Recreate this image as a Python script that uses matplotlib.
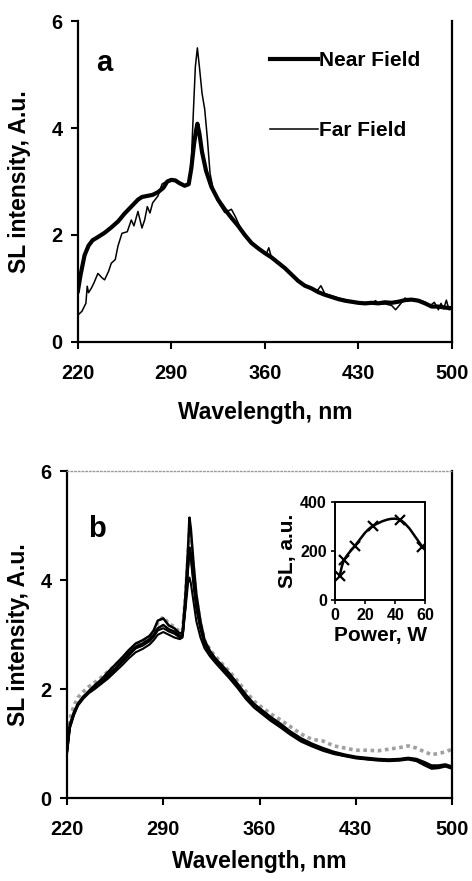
import matplotlib
matplotlib.use("Agg")
import matplotlib.pyplot as plt
from matplotlib.path import Path
from matplotlib.patches import PathPatch

plt.rcParams['font.family'] = ['Liberation Sans', 'DejaVu Sans']
plt.rcParams['font.weight'] = 'bold'

# ---- panel a : near field vs far field ----
near_wl = [220, 222, 225, 228, 231, 235, 240, 245, 250, 255, 260, 265, 268, 272,
           276, 280, 284, 287, 290, 293, 296, 300, 303, 305, 307, 308.5, 309.5, 311,
           313, 316, 320, 325, 330, 335, 340, 345, 350, 355, 360, 365, 370, 375,
           380, 385, 390, 395, 400, 405, 410, 415, 420, 425, 430, 435, 440, 445,
           450, 455, 460, 465, 470, 475, 480, 485, 490, 495, 500]
near_val = [0.95, 1.25, 1.62, 1.80, 1.90, 1.96, 2.04, 2.14, 2.25, 2.40, 2.53, 2.66, 2.71, 2.73,
            2.75, 2.80, 2.88, 3.00, 3.03, 3.02, 2.97, 2.92, 2.95, 3.25, 3.70, 3.95, 4.08, 3.90,
            3.55, 3.20, 2.90, 2.66, 2.48, 2.32, 2.17, 2.00, 1.85, 1.75, 1.66, 1.58, 1.48, 1.38,
            1.26, 1.14, 1.05, 1.00, 0.93, 0.88, 0.84, 0.80, 0.77, 0.75, 0.73, 0.72, 0.73, 0.72,
            0.74, 0.73, 0.75, 0.78, 0.79, 0.77, 0.72, 0.66, 0.66, 0.64, 0.63]

far_wl = [220, 223, 226, 227, 228, 230, 232, 235, 238, 240, 243, 245, 248, 250, 253, 257,
          260, 262, 265, 268, 270, 272, 274, 276, 280, 283, 288, 292, 296, 300, 303, 305,
          306.5, 308, 309.5, 311, 313, 315, 317, 319, 322, 325, 330, 335, 338, 342, 346,
          350, 355, 358, 361, 363, 365, 370, 375, 380, 385, 390, 393, 397, 400, 402, 405,
          410, 415, 420, 425, 430, 435, 440, 443, 446, 450, 455, 458, 462, 465, 468, 472,
          476, 480, 484, 487, 490, 492, 494, 496, 498, 500]
far_val = [0.50, 0.57, 0.72, 1.04, 0.92, 1.00, 1.10, 1.28, 1.20, 1.16, 1.32, 1.47, 1.54, 1.79,
           2.03, 2.06, 2.28, 2.17, 2.44, 2.13, 2.28, 2.53, 2.41, 2.60, 2.73, 2.95, 3.03, 3.02,
           2.97, 2.92, 2.95, 3.40, 4.30, 5.15, 5.50, 5.15, 4.65, 4.35, 3.80, 3.15, 2.78, 2.62,
           2.42, 2.48, 2.34, 2.12, 1.98, 1.85, 1.74, 1.68, 1.64, 1.76, 1.58, 1.46, 1.38, 1.26,
           1.15, 1.04, 1.02, 0.95, 0.98, 1.05, 0.90, 0.86, 0.82, 0.79, 0.74, 0.74, 0.70, 0.73,
           0.77, 0.70, 0.71, 0.68, 0.60, 0.72, 0.82, 0.78, 0.80, 0.78, 0.74, 0.68, 0.74, 0.60,
           0.72, 0.62, 0.78, 0.60, 0.62]

# ---- panel b : spectra at different powers ----
b_wl = [220, 222, 225, 228, 232, 236, 240, 245, 250, 255, 260, 265, 270, 275, 280, 283,
        286, 290, 294, 298, 302, 304, 306, 308, 309, 310, 312, 314, 317, 320, 324, 328,
        333, 338, 344, 350, 356, 362, 368, 375, 382, 390, 398, 406, 414, 422, 430, 438,
        446, 454, 462, 468, 474, 480, 485, 490, 495, 500]
b_val1 = [0.85, 1.30, 1.55, 1.72, 1.86, 1.97, 2.07, 2.18, 2.32, 2.45, 2.58, 2.72, 2.84, 2.90,
          2.98, 3.08, 3.26, 3.30, 3.17, 3.12, 3.02, 3.05, 3.70, 4.60, 5.15, 4.95, 4.30, 3.75,
          3.25, 2.90, 2.70, 2.56, 2.43, 2.29, 2.10, 1.90, 1.73, 1.61, 1.49, 1.37, 1.23, 1.10,
          1.00, 0.92, 0.85, 0.80, 0.76, 0.74, 0.72, 0.71, 0.72, 0.74, 0.72, 0.66, 0.60, 0.60,
          0.62, 0.58]
b_val2 = [0.88, 1.35, 1.58, 1.74, 1.87, 1.96, 2.04, 2.15, 2.27, 2.38, 2.52, 2.66, 2.78, 2.84,
          2.92, 3.00, 3.12, 3.18, 3.10, 3.06, 2.97, 3.00, 3.55, 4.30, 4.60, 4.50, 4.00, 3.55,
          3.15, 2.85, 2.66, 2.54, 2.40, 2.25, 2.06, 1.86, 1.70, 1.58, 1.45, 1.33, 1.20, 1.07,
          0.98, 0.90, 0.83, 0.78, 0.75, 0.72, 0.71, 0.70, 0.71, 0.73, 0.70, 0.63, 0.57, 0.58,
          0.60, 0.55]
b_val3 = [0.86, 1.32, 1.56, 1.73, 1.85, 1.95, 2.03, 2.12, 2.24, 2.36, 2.49, 2.62, 2.75, 2.80,
          2.88, 2.96, 3.08, 3.12, 3.06, 3.02, 2.95, 2.98, 3.50, 4.20, 4.50, 4.40, 3.90, 3.48,
          3.10, 2.82, 2.64, 2.52, 2.38, 2.24, 2.05, 1.85, 1.68, 1.56, 1.44, 1.32, 1.19, 1.06,
          0.97, 0.89, 0.82, 0.78, 0.74, 0.72, 0.70, 0.69, 0.70, 0.72, 0.69, 0.62, 0.56, 0.57,
          0.59, 0.56]
b_val4 = [0.84, 1.28, 1.52, 1.70, 1.83, 1.93, 2.00, 2.10, 2.20, 2.32, 2.44, 2.57, 2.68, 2.74,
          2.82, 2.90, 3.00, 3.05, 3.00, 2.95, 2.92, 2.95, 3.45, 3.95, 4.05, 3.95, 3.60, 3.25,
          2.95, 2.75, 2.60, 2.48, 2.34, 2.20, 2.02, 1.82, 1.66, 1.54, 1.42, 1.30, 1.17, 1.04,
          0.95, 0.87, 0.81, 0.77, 0.73, 0.71, 0.69, 0.68, 0.69, 0.71, 0.68, 0.60, 0.54, 0.55,
          0.58, 0.54]
b_grey = [0.95, 1.45, 1.70, 1.85, 1.96, 2.05, 2.12, 2.22, 2.33, 2.44, 2.56, 2.70, 2.80, 2.86,
          2.94, 3.05, 3.22, 3.33, 3.20, 3.15, 3.05, 3.08, 3.65, 4.45, 4.90, 4.75, 4.15, 3.65,
          3.20, 2.90, 2.72, 2.60, 2.46, 2.33, 2.15, 1.96, 1.78, 1.66, 1.55, 1.44, 1.32, 1.18,
          1.08, 1.05, 0.96, 0.92, 0.88, 0.88, 0.87, 0.90, 0.93, 0.96, 0.92, 0.85, 0.80, 0.82,
          0.85, 0.90]

# inset: SL vs power
power = [3, 6, 13, 25, 43, 58]
sl = [98, 163, 220, 302, 328, 218]

x_ticks = [220, 290, 360, 430, 500]
y_ticks = [0, 2, 4, 6]

fig = plt.figure(figsize=(4.72, 8.81), dpi=100)

def style_main(ax):
    ax.set_xlim(220, 500)
    ax.set_ylim(0, 6)
    ax.set_xticks(x_ticks)
    ax.set_yticks(y_ticks)
    ax.tick_params(axis='both', which='major', labelsize=14.4, width=1.5,
                   length=5, direction='out', pad=6)
    ax.tick_params(axis='x', pad=11)
    for lab in ax.get_xticklabels() + ax.get_yticklabels():
        lab.set_fontweight('bold')
    for s in ['left', 'bottom', 'right']:
        ax.spines[s].set_linewidth(1.6)
    ax.set_xlabel("Wavelength, nm", fontsize=16.5, fontweight='bold')
    ax.set_ylabel("SL intensity, A.u.", fontsize=16.5, fontweight='bold')

# top panel
ax1 = fig.add_axes([0.165, 0.612, 0.792, 0.364])
ax1.plot(far_wl, far_val, color='black', linewidth=1.1, label='Far Field')
ax1.plot(near_wl, near_val, color='black', linewidth=3.0, label='Near Field')
style_main(ax1)
ax1.spines['top'].set_visible(False)
ax1.xaxis.set_label_coords(0.5, -0.185)
ax1.yaxis.set_label_coords(-0.125, 0.5)
ax1.text(0.05, 0.845, "a", transform=ax1.transAxes, fontsize=21, fontweight='bold')
h, l = ax1.get_legend_handles_labels()
leg = ax1.legend(h[::-1], l[::-1], loc='upper right', bbox_to_anchor=(0.95, 0.945),
                 frameon=False, fontsize=15, handlelength=2.3, handletextpad=0.05,
                 labelspacing=2.45, borderaxespad=0.2)

# bottom panel
ax2 = fig.add_axes([0.142, 0.094, 0.816, 0.371])
ax2.plot(b_wl, b_grey, color='#a0a0a0', linewidth=2.6, linestyle=(0, (1, 1)))
ax2.plot(b_wl, b_val4, color='black', linewidth=1.5)
ax2.plot(b_wl, b_val3, color='black', linewidth=1.5)
ax2.plot(b_wl, b_val2, color='black', linewidth=1.8)
ax2.plot(b_wl, b_val1, color='black', linewidth=1.8)
style_main(ax2)
ax2.spines['top'].set_color('#999999')
ax2.spines['top'].set_linewidth(1.0)
ax2.spines['top'].set_linestyle(':')
ax2.xaxis.set_label_coords(0.5, -0.16)
ax2.yaxis.set_label_coords(-0.097, 0.5)
ax2.text(0.055, 0.80, "b", transform=ax2.transAxes, fontsize=21, fontweight='bold')

# inset
ax3 = fig.add_axes([0.710, 0.319, 0.191, 0.111])
ax3.plot(power, sl, linestyle='none', marker='x', color='black', markersize=7,
         markeredgewidth=1.6)
# smooth line through points (Catmull-Rom as cubic Bezier)
px = [power[0]] + power + [power[-1]]
py = [sl[0]] + sl + [sl[-1]]
verts = [(power[0], sl[0])]
codes = [Path.MOVETO]
for i in range(1, len(px) - 2):
    c1 = (px[i] + (px[i + 1] - px[i - 1]) / 6, py[i] + (py[i + 1] - py[i - 1]) / 6)
    c2 = (px[i + 1] - (px[i + 2] - px[i]) / 6, py[i + 1] - (py[i + 2] - py[i]) / 6)
    verts += [c1, c2, (px[i + 1], py[i + 1])]
    codes += [Path.CURVE4] * 3
ax3.add_patch(PathPatch(Path(verts, codes), fill=False, edgecolor='black', linewidth=1.8))
ax3.set_xlim(0, 60)
ax3.set_ylim(0, 400)
ax3.set_xticks([0, 20, 40, 60])
ax3.set_yticks([0, 200, 400])
ax3.tick_params(axis='both', labelsize=11.5, width=1.2, length=3, direction='out', pad=3)
for s in ax3.spines.values():
    s.set_linewidth(1.4)
ax3.set_xlabel("Power, W", fontsize=15, fontweight='bold', labelpad=2)
ax3.set_ylabel("SL, a.u.", fontsize=15, fontweight='bold', labelpad=2)

fig.savefig("out.png", dpi=100)
